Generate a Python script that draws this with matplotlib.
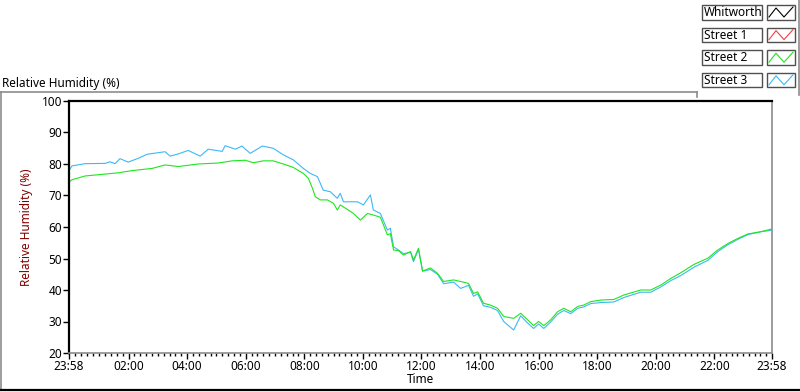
import matplotlib
matplotlib.use("Agg")
import matplotlib.pyplot as plt
from matplotlib.patches import Rectangle

plt.rcParams['font.family'] = ['Noto Sans', 'DejaVu Sans']

# hours after the 23:58 start
t_street2 = [0.00, 0.10, 0.55, 1.23, 1.68, 2.15, 2.84, 3.28, 3.73, 4.41, 5.09, 5.57, 6.02,
             6.29, 6.63, 6.97, 7.32, 7.66, 8.00, 8.17, 8.31, 8.41, 8.58, 8.82, 9.03, 9.16,
             9.26, 9.50, 9.71, 9.95, 10.19, 10.39, 10.63, 10.87, 10.97, 11.08, 11.25, 11.42,
             11.66, 11.76, 11.93, 12.07, 12.34, 12.58, 12.79, 13.13, 13.37, 13.64, 13.81,
             13.95, 14.15, 14.39, 14.63, 14.84, 15.18, 15.42, 15.66, 15.86, 16.03, 16.21,
             16.44, 16.68, 16.89, 17.13, 17.37, 17.57, 17.81, 18.15, 18.60, 18.94, 19.52,
             19.86, 20.21, 20.55, 20.89, 21.33, 21.81, 22.15, 22.50, 22.84, 23.18, 23.62, 24.00]
rh_street2 = [74.3, 75.0, 76.2, 76.8, 77.2, 77.9, 78.6, 79.7, 79.2, 80.0, 80.3, 81.0, 81.2,
              80.4, 81.0, 81.0, 80.0, 78.9, 77.0, 75.5, 72.3, 69.6, 68.6, 68.6, 67.5, 65.4,
              67.0, 65.6, 64.3, 62.2, 64.3, 63.8, 63.1, 57.5, 57.9, 52.7, 52.5, 51.1,
              52.2, 49.5, 53.2, 46.0, 47.0, 45.3, 42.7, 43.2, 42.7, 42.1, 38.9,
              39.4, 35.8, 35.2, 34.2, 31.6, 31.0, 32.6, 30.5, 28.7, 30.0, 28.7,
              30.5, 33.1, 34.2, 33.1, 34.8, 35.2, 36.3, 36.8, 37.0, 38.4, 40.0,
              40.0, 41.6, 43.7, 45.5, 48.1, 50.1, 52.7, 54.8, 56.4, 57.8, 58.5, 59.4]

t_street3 = [0.00, 0.10, 0.55, 1.23, 1.40, 1.57, 1.74, 2.02, 2.36, 2.67, 3.28, 3.45, 3.73,
             4.07, 4.48, 4.75, 5.23, 5.33, 5.68, 5.91, 6.02, 6.19, 6.60, 6.97, 7.32, 7.66,
             8.00, 8.24, 8.48, 8.68, 8.92, 9.16, 9.26, 9.37, 9.61, 9.85, 10.05, 10.29, 10.39,
             10.63, 10.87, 10.97, 11.08, 11.25, 11.42, 11.66, 11.76, 11.93, 12.07, 12.34,
             12.58, 12.79, 13.13, 13.37, 13.64, 13.81, 13.95, 14.15, 14.39, 14.63, 14.84,
             15.18, 15.42, 15.66, 15.86, 16.03, 16.21, 16.44, 16.68, 16.89, 17.13, 17.37,
             17.57, 17.81, 18.15, 18.60, 18.94, 19.52, 19.86, 20.21, 20.55, 20.89, 21.33,
             21.81, 22.15, 22.50, 22.84, 23.18, 23.62, 24.00]
rh_street3 = [77.9, 79.4, 80.1, 80.2, 80.7, 80.1, 81.7, 80.6, 81.8, 83.1, 83.9, 82.5, 83.2,
              84.3, 82.5, 84.7, 84.0, 85.8, 84.7, 85.7, 84.7, 83.4, 85.7, 85.0, 82.9, 81.3,
              78.6, 77.0, 76.0, 71.7, 71.2, 69.1, 70.7, 68.0, 68.0, 68.0, 67.0, 70.2, 65.4,
              64.3, 59.0, 59.6, 53.7, 52.7, 51.5, 52.0, 49.0, 53.0, 46.0, 46.5,
              45.0, 42.0, 42.5, 40.5, 41.5, 38.0, 38.8, 35.0, 34.5, 33.5, 30.0,
              27.3, 31.8, 29.5, 27.8, 29.2, 27.8, 29.8, 32.3, 33.5, 32.5, 34.2,
              34.6, 35.7, 36.0, 36.2, 37.6, 39.3, 39.3, 41.0, 43.0, 44.6, 47.2,
              49.4, 52.2, 54.4, 56.1, 57.6, 58.5, 59.0]

series_names = ['Whitworth', 'Street 1', 'Street 2', 'Street 3']
series_colors = ['#000000', '#ff3c3c', '#1ee61e', '#3cb9f5']

tick_pos = [0] + [h + 2 / 60 for h in range(2, 24, 2)] + [24]
tick_lab = ['23:58'] + ['%02d:00' % h for h in range(2, 24, 2)] + ['23:58']
y_ticks = list(range(20, 101, 10))

W, H = 800, 392
fig = plt.figure(figsize=(8, 3.92), dpi=100)
ax = fig.add_axes([69 / W, 1 - 353 / H, (772 - 69) / W, (353 - 101) / H])

ax.plot(t_street3, rh_street3, color=series_colors[3], lw=0.8)
ax.plot(t_street2, rh_street2, color=series_colors[2], lw=0.8)

ax.set_xlim(0, 24)
ax.set_ylim(20, 100)
ax.set_xticks(tick_pos)
ax.set_xticklabels(tick_lab)
minor = []
for a, b in zip(tick_pos[:-1], tick_pos[1:]):
    minor += [a + (b - a) * k / 10 for k in range(1, 10)]
ax.set_xticks(minor, minor=True)
ax.set_yticks(y_ticks)
ax.tick_params(axis='both', direction='out', length=4, width=1, labelsize=8.5, pad=1)
ax.tick_params(axis='x', which='minor', length=2.5, width=1)

for s in ['top', 'left']:
    ax.spines[s].set_linewidth(1.6)
    ax.spines[s].set_color('black')
for s in ['bottom', 'right']:
    ax.spines[s].set_linewidth(1.2)
    ax.spines[s].set_color('#8c8c8c')

ax.set_xlabel('Time', fontsize=8.5, labelpad=0)
ax.set_ylabel('Relative Humidity (%)', fontsize=8.5, color='#800000', labelpad=6)

# panel decoration, in pixel coords
ov = fig.add_axes([0, 0, 1, 1], zorder=-1)
ov.set_xlim(0, W)
ov.set_ylim(H, 0)
ov.axis('off')
ov.plot([0, 697], [92, 92], color='#8c8c8c', lw=1.2)
ov.plot([697, 697], [92, 97], color='#8c8c8c', lw=1.2)
ov.plot([0.5, 0.5], [92, 390], color='#8c8c8c', lw=1.2)
ov.plot([0, W], [390, 390], color='black', lw=1.6)
ov.plot([799, 799], [0, 95], color='#8c8c8c', lw=1.2)
ov.text(2, 83, 'Relative Humidity (%)', fontsize=8.5, va='center', ha='left')

ov2 = fig.add_axes([0, 0, 1, 1], zorder=5)
ov2.set_xlim(0, W)
ov2.set_ylim(H, 0)
ov2.axis('off')
for i, (name, col) in enumerate(zip(series_names, series_colors)):
    top = 5 + i * 22.6
    ov2.add_patch(Rectangle((702, top), 60, 14.5, fill=False, ec='#505050', lw=1))
    ov2.add_patch(Rectangle((767, top), 28, 14.5, fill=False, ec='#505050', lw=1))
    ov2.text(704, top + 7.5, name, fontsize=8.5, va='center', ha='left')
    ov2.plot([769, 776, 784, 793], [top + 12, top + 3, top + 12, top + 2], color=col, lw=0.8)

fig.savefig('out.png', dpi=100)
